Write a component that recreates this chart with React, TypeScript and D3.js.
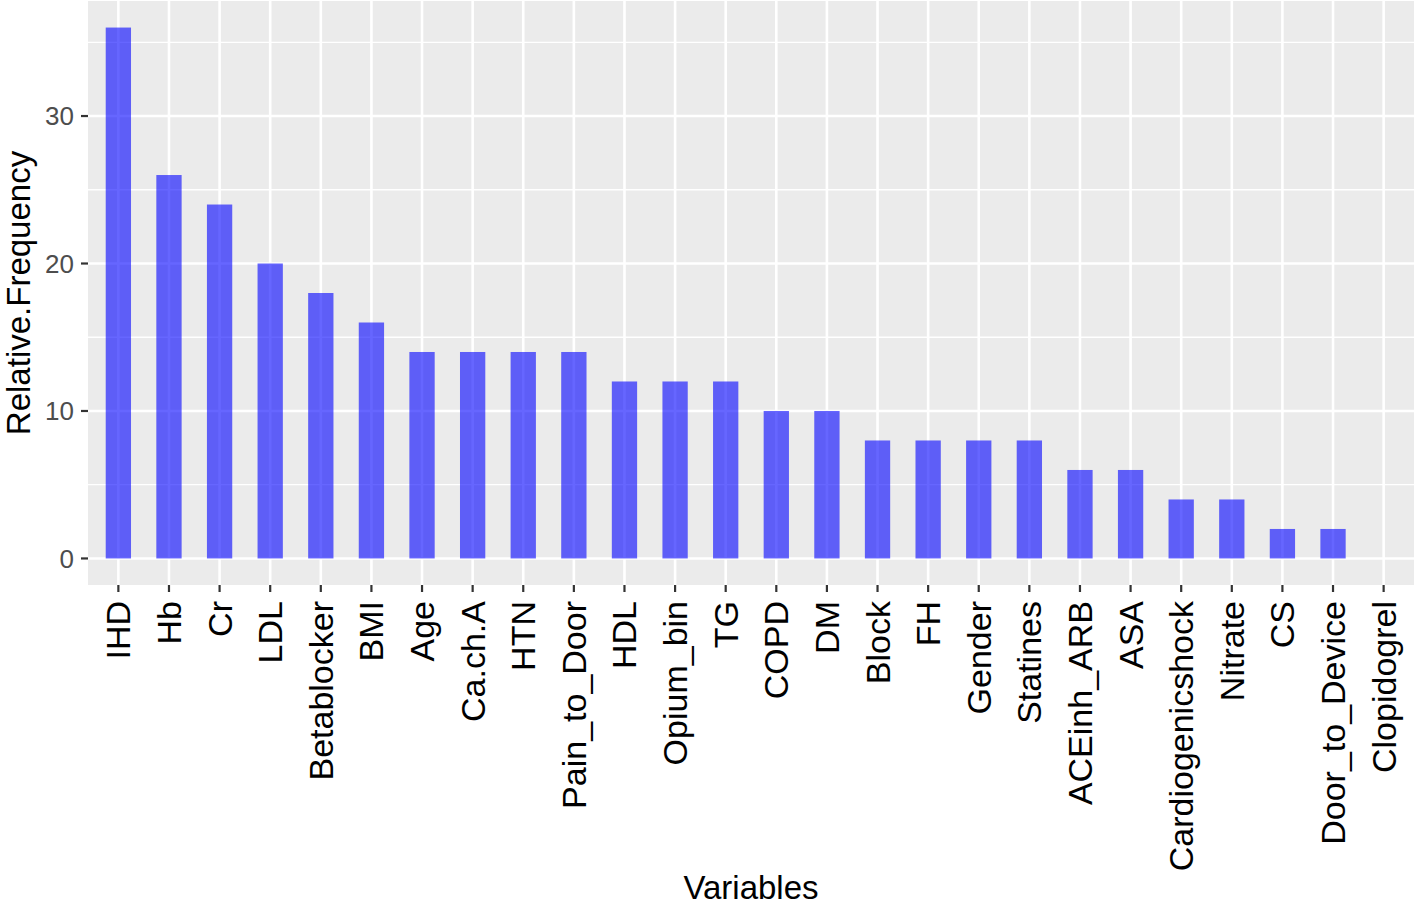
import React, { useRef, useEffect } from "react";
import * as d3 from "d3";

const variables = [
  "IHD", "Hb", "Cr", "LDL", "Betablocker", "BMI", "Age", "Ca.ch.A", "HTN",
  "Pain_to_Door", "HDL", "Opium_bin", "TG", "COPD", "DM", "Block", "FH",
  "Gender", "Statines", "ACEinh_ARB", "ASA", "Cardiogenicshock", "Nitrate",
  "CS", "Door_to_Device", "Clopidogrel",
];
const frequencies = [
  36, 26, 24, 20, 18, 16, 14, 14, 14, 14, 12, 12, 12, 10, 10, 8, 8, 8, 8, 6,
  6, 4, 4, 2, 2, 0,
];
const yTicks = [0, 10, 20, 30];
const yMinor = [5, 15, 25, 35];

const App = () => {
  const svgRef = useRef(null);

  useEffect(() => {
    const svg = d3.select(svgRef.current);
    svg.selectAll("*").remove();

    const panel = { left: 88, right: 1414, top: 1, bottom: 585 };
    const font = "'Liberation Sans', Arial, Helvetica, sans-serif";

    // ggplot style expansion: 0.6 units on discrete axis, 5% on continuous
    const n = variables.length;
    const step = (panel.right - panel.left) / (n - 1 + 1.2);
    const x = d3
      .scalePoint()
      .domain(variables)
      .range([panel.left + 0.6 * step, panel.right - 0.6 * step]);

    const maxV = d3.max(frequencies);
    const y = d3
      .scaleLinear()
      .domain([-maxV * 0.05, maxV * 1.05])
      .range([panel.bottom, panel.top]);

    // panel background
    svg.append("rect")
      .attr("x", panel.left)
      .attr("y", panel.top)
      .attr("width", panel.right - panel.left)
      .attr("height", panel.bottom - panel.top)
      .attr("fill", "#EBEBEB");

    // minor grid
    svg.selectAll(".minor")
      .data(yMinor)
      .enter()
      .append("line")
      .attr("x1", panel.left)
      .attr("x2", panel.right)
      .attr("y1", d => y(d))
      .attr("y2", d => y(d))
      .attr("stroke", "white")
      .attr("stroke-width", 1.3);

    // major grid
    svg.selectAll(".major-y")
      .data(yTicks)
      .enter()
      .append("line")
      .attr("x1", panel.left)
      .attr("x2", panel.right)
      .attr("y1", d => y(d))
      .attr("y2", d => y(d))
      .attr("stroke", "white")
      .attr("stroke-width", 2.6);

    svg.selectAll(".major-x")
      .data(variables)
      .enter()
      .append("line")
      .attr("x1", d => x(d))
      .attr("x2", d => x(d))
      .attr("y1", panel.top)
      .attr("y2", panel.bottom)
      .attr("stroke", "white")
      .attr("stroke-width", 2.6);

    // bars
    const barW = step * 0.5;
    svg.selectAll(".bar")
      .data(variables)
      .enter()
      .append("rect")
      .attr("x", d => x(d) - barW / 2)
      .attr("y", (d, i) => y(frequencies[i]))
      .attr("width", barW)
      .attr("height", (d, i) => y(0) - y(frequencies[i]))
      .attr("fill", "blue")
      .attr("fill-opacity", 0.6);

    // y axis ticks + labels
    svg.selectAll(".ytick")
      .data(yTicks)
      .enter()
      .append("line")
      .attr("x1", panel.left - 7)
      .attr("x2", panel.left)
      .attr("y1", d => y(d))
      .attr("y2", d => y(d))
      .attr("stroke", "#333333")
      .attr("stroke-width", 2.2);

    svg.selectAll(".ylab")
      .data(yTicks)
      .enter()
      .append("text")
      .attr("x", panel.left - 14)
      .attr("y", d => y(d))
      .attr("dy", "0.36em")
      .attr("text-anchor", "end")
      .attr("font-family", font)
      .attr("font-size", 26)
      .attr("fill", "#4D4D4D")
      .text(d => d);

    // x axis ticks + labels
    svg.selectAll(".xtick")
      .data(variables)
      .enter()
      .append("line")
      .attr("x1", d => x(d))
      .attr("x2", d => x(d))
      .attr("y1", panel.bottom)
      .attr("y2", panel.bottom + 7)
      .attr("stroke", "#333333")
      .attr("stroke-width", 2.2);

    svg.selectAll(".xlab")
      .data(variables)
      .enter()
      .append("text")
      .attr("transform", d => `translate(${x(d) + 12},${panel.bottom + 16})rotate(-90)`)
      .attr("text-anchor", "end")
      .attr("font-family", font)
      .attr("font-size", 34)
      .attr("fill", "black")
      .text(d => d);

    // titles
    svg.append("text")
      .attr("x", (panel.left + panel.right) / 2)
      .attr("y", 899)
      .attr("text-anchor", "middle")
      .attr("font-family", font)
      .attr("font-size", 33)
      .attr("fill", "black")
      .text("Variables");

    svg.append("text")
      .attr("text-anchor", "middle")
      .attr("transform", `translate(30,${(panel.top + panel.bottom) / 2})rotate(-90)`)
      .attr("font-family", font)
      .attr("font-size", 33)
      .attr("fill", "black")
      .text("Relative.Frequency");
  }, []);

  return (
    <svg
      ref={svgRef}
      width={1416}
      height={907}
      style={{ position: "absolute", left: 0, top: 0, background: "white" }}
    ></svg>
  );
};

export default App;
